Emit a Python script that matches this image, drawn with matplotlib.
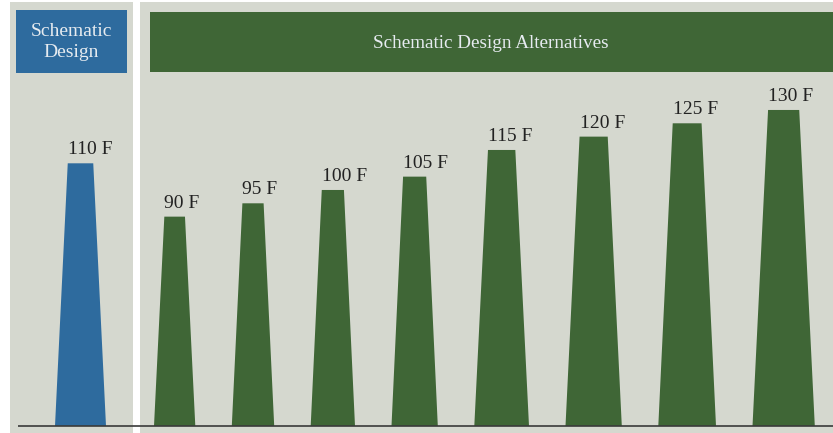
import matplotlib
matplotlib.use("Agg")
import matplotlib.pyplot as plt
from matplotlib.patches import Rectangle, Polygon

# ---- data ----
baseline_label = "110 F"
baseline_value = 110
alt_labels = ["90 F", "95 F", "100 F", "105 F", "115 F", "120 F", "125 F", "130 F"]
alt_values = [90, 95, 100, 105, 115, 120, 125, 130]
baseline_width = 51
alt_widths = [41.3, 42.4, 44.3, 46.3, 54.7, 56.3, 57.7, 62.3]
header_left = "Schematic\nDesign"
header_right = "Schematic Design Alternatives"

# ---- style / layout ----
W, H = 833, 433
GREY = "#d5d8cf"
BLUE = "#2e6b9e"
GREEN = "#3f6636"
TXT = "#222222"
HEAD_TXT = "#e6ebf0"
FONT = "Liberation Serif"
v_base = 11.5          # value at the chart floor
px_per_unit = 2.667
base_px = 426
top_ratio = 0.5        # trapezoid top width / bottom width
gap = 36.5
first_left = 154
blue_center = 80.5

fig = plt.figure(figsize=(W / 100, H / 100), dpi=100)
fig.patch.set_facecolor("white")

deco = fig.add_axes([0, 0, 1, 1])
deco.set_xlim(0, W)
deco.set_ylim(H, 0)
deco.axis("off")
deco.add_patch(Rectangle((10, 2), 123, H, color=GREY, lw=0))
deco.add_patch(Rectangle((140, 2), W - 140, H, color=GREY, lw=0))
deco.add_patch(Rectangle((16, 10), 111, 63, color=BLUE, lw=0))
deco.add_patch(Rectangle((150, 12), W - 150, 60, color=GREEN, lw=0))
deco.text(71.5, 42, header_left, ha="center", va="center", color=HEAD_TXT,
          fontsize=14, family=FONT, linespacing=1.38)
deco.text(491, 43, header_right, ha="center", va="center", color=HEAD_TXT,
          fontsize=13.8, family=FONT)

ax = fig.add_axes([0, 0, 1, 1], facecolor="none")
ax.set_xlim(0, W)
ybot = v_base - (H - base_px) / px_per_unit
ytop = v_base + base_px / px_per_unit
ax.set_ylim(ybot, ytop)
ax.axis("off")

label_pad = 9 / px_per_unit


def trap(center, width, value, color, label):
    hb = width / 2
    ht = width * top_ratio / 2
    poly = Polygon([(center - hb, v_base), (center + hb, v_base),
                    (center + ht, value), (center - ht, value)],
                   closed=True, facecolor=color, edgecolor="none")
    ax.add_patch(poly)
    ax.text(center - ht, value + label_pad, label, ha="left", va="baseline",
            fontsize=14, family=FONT, color=TXT)


trap(blue_center, baseline_width, baseline_value, BLUE, baseline_label)

left = first_left
for lab, val, w in zip(alt_labels, alt_values, alt_widths):
    trap(left + w / 2, w, val, GREEN, lab)
    left += w + gap

ax.hlines(v_base, 18, W, color="#3a3a3a", lw=1.2)

fig.savefig("out.png", dpi=100)
